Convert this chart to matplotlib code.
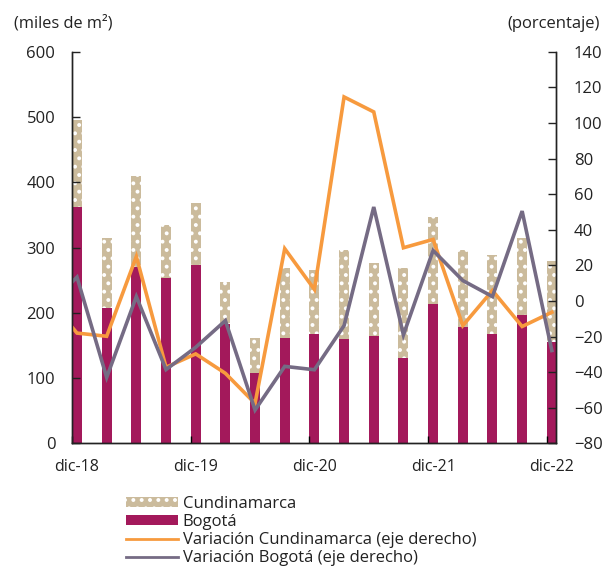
import numpy as np
import matplotlib
matplotlib.use("Agg")
import matplotlib.pyplot as plt
from matplotlib.patches import Patch
from matplotlib.lines import Line2D

plt.rcParams["font.family"] = ["Open Sans", "DejaVu Sans"]
plt.rcParams["hatch.linewidth"] = 1.6

# trimestres dic-18 ... dic-22
periodos = ["dic-18", "mar-19", "jun-19", "sep-19", "dic-19", "mar-20", "jun-20", "sep-20",
            "dic-20", "mar-21", "jun-21", "sep-21", "dic-21", "mar-22", "jun-22", "sep-22", "dic-22"]
etiquetas = ["dic-18", "dic-19", "dic-20", "dic-21", "dic-22"]

# miles de m2
bogota = [362, 207, 271, 254, 274, 183, 108, 162, 168, 160, 164, 131, 214, 178, 168, 197, 156]
total = [496, 314, 409, 335, 369, 247, 162, 268, 266, 297, 277, 268, 347, 297, 289, 314, 279]
cundinamarca = [t - b for t, b in zip(total, bogota)]

# variacion anual (%), el primer valor es sep-18 (queda fuera del eje)
var_cund = [2, -18, -19.8, 25, -37.2, -29.7, -40.6, -57.5, 29.4, 6.5, 114.6, 106.2,
            29.9, 34.6, -13.8, 5.9, -14.3, -6.3]
var_bog = [-3, 13.4, -42.9, 2.5, -38.5, -26, -11, -61.2, -36.7, -38.6, -13.8, 52.8,
           -19, 28.4, 11.5, 2.5, 50.5, -27.8]

x = np.arange(len(periodos))
x_lin = np.arange(-1, len(periodos))

maroon = "#A3195B"
tan = "#CBBB9C"
orange = "#F79A3E"
grey = "#756B84"

fig = plt.figure(figsize=(6.15, 5.69), dpi=100)
ax = fig.add_axes([0.117, 0.2206, 0.787, 0.6885])

w = 0.34
ax.bar(x, bogota, width=w, color=maroon, linewidth=0)
ax.bar(x, cundinamarca, bottom=bogota, width=w, color=tan, edgecolor="white",
       linewidth=0, hatch="..")

ax.set_ylim(0, 600)
ax.set_xlim(-0.17, 16.14)
ax.set_yticks(np.arange(0, 601, 100))

ax2 = ax.twinx()
ax2.plot(x_lin, var_cund, color=orange, lw=2.6, solid_joinstyle="miter")
ax2.plot(x_lin, var_bog, color=grey, lw=2.6, solid_joinstyle="miter")
ax2.set_ylim(-80, 140)
ax2.set_yticks(np.arange(-80, 141, 20))
ax2.set_xlim(-0.17, 16.14)

ax.set_xticks([i - 0.17 for i in range(0, 17, 4)])
ax.set_xticklabels([])
ax.set_xticks([i for i in range(0, 17, 4)], minor=True)
ax.set_xticklabels(etiquetas, minor=True)
ax.tick_params(axis="x", which="minor", length=0, pad=11, labelsize=11.5, colors="#222222")
ax.tick_params(axis="x", which="major", direction="in", length=5, width=1)
ax.tick_params(axis="y", direction="in", length=6, width=1, pad=12, labelsize=12,
               colors="#222222")
ax2.tick_params(axis="y", direction="in", length=6, width=1, pad=13, labelsize=12,
                colors="#222222")

for a in (ax, ax2):
    a.spines["top"].set_visible(False)
    for s in ("left", "right", "bottom"):
        a.spines[s].set_color("#222222")
        a.spines[s].set_linewidth(1)

fig.text(0.022, 0.96, "(miles de m²)", fontsize=11.8, color="#222222", va="center")
fig.text(0.976, 0.958, "(porcentaje)", fontsize=12, color="#222222", va="center", ha="right")

handles = [
    Patch(facecolor=tan, edgecolor="white", linewidth=0, hatch=".."),
    Patch(facecolor=maroon, linewidth=0),
    Line2D([], [], color=orange, lw=2),
    Line2D([], [], color=grey, lw=2),
]
labels = ["Cundinamarca", "Bogotá", "Variación Cundinamarca (eje derecho)",
          "Variación Bogotá (eje derecho)"]
fig.legend(handles, labels, loc="upper left", bbox_to_anchor=(0.205, 0.128), frameon=False,
           fontsize=12, handlelength=3.1, handleheight=0.55, handletextpad=0.3,
           labelspacing=0.12, borderaxespad=0, borderpad=0, labelcolor="#222222")

fig.savefig("out.png", dpi=100)
